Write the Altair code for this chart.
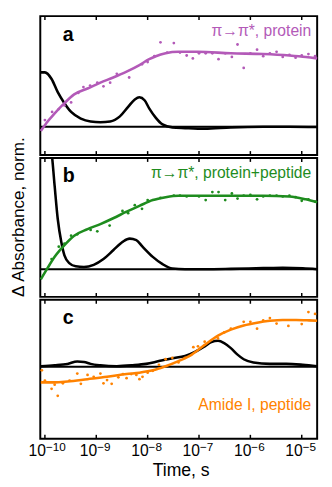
import altair as alt
import pandas as pd

FONT = "Liberation Sans"
W, H = 283, 142
X_LO, X_HI = -10.09, -4.70
DECADES = [-10, -9, -8, -7, -6, -5]
EXPONENTS = ["−10", "−9", "−8", "−7", "−6", "−5"]

PURPLE = "#B35AB8"
GREEN = "#1E8C1E"
ORANGE = "#FF8200"

# ---- panel a: pi->pi*, protein (x = log10 time / s)
A_PT_X = [-10.00, -9.86, -9.73, -9.62, -9.49, -9.35, -9.25, -9.12, -8.98, -8.86, -8.73, -8.60, -8.36, -8.11,
          -8.00, -7.87, -7.75, -7.62, -7.49, -7.37, -7.24, -7.12, -7.00, -6.87, -6.74, -6.62, -6.49, -6.36,
          -6.25, -6.13, -6.00, -5.87, -5.75, -5.62, -5.49, -5.37, -5.24, -5.12, -5.00, -4.87, -4.74]
A_PT_Y = [0.09, 0.20, 0.24, 0.29, 0.33, 0.46, 0.54, 0.56, 0.60, 0.55, 0.60, 0.72, 0.67, 0.85,
          0.88, 0.96, 1.15, 1.01, 1.14, 1.01, 0.97, 0.93, 1.00, 1.00, 1.00, 0.92, 1.00, 0.95,
          1.12, 0.80, 1.00, 1.05, 0.96, 1.00, 1.02, 0.95, 0.98, 0.94, 0.97, 0.99, 0.96]
A_FIT_X = [-10.08, -9.97, -9.81, -9.62, -9.43, -9.17, -8.92, -8.67, -8.41, -8.16, -7.97, -7.84, -7.65,
           -7.40, -7.02, -6.38, -5.75, -5.24, -4.92, -4.70]
A_FIT_Y = [-0.06, 0.05, 0.18, 0.32, 0.44, 0.52, 0.60, 0.67, 0.75, 0.84, 0.92, 0.96, 1.00,
           1.02, 1.02, 1.00, 0.99, 0.97, 0.95, 0.93]
A_BLK_X = [-10.09, -10.0, -9.87, -9.75, -9.62, -9.49, -9.30, -9.11, -8.92, -8.73, -8.54, -8.38, -8.25,
           -8.16, -8.06, -7.97, -7.84, -7.71, -7.52, -7.27, -6.89, -6.38, -5.75, -5.24, -4.70]
A_BLK_Y = [0.74, 0.74, 0.65, 0.47, 0.32, 0.20, 0.11, 0.07, 0.06, 0.07, 0.14, 0.27, 0.37,
           0.40, 0.36, 0.25, 0.12, 0.03, -0.01, -0.02, -0.03, -0.01, 0.0, 0.0, -0.005]

# ---- panel b: pi->pi*, protein+peptide
B_PT_X = [-9.87, -9.73, -9.62, -9.49, -9.37, -9.11, -8.98, -8.74, -8.49, -8.38, -8.25, -8.11, -8.00,
          -7.75, -7.49, -7.37, -7.24, -7.00, -6.87, -6.74, -6.62, -6.49, -6.36, -6.25, -6.13, -6.00,
          -5.87, -5.75, -5.62, -5.49, -5.37, -5.24, -5.12, -5.00, -4.87, -4.74]
B_PT_Y = [0.14, 0.31, 0.35, 0.46, 0.48, 0.54, 0.52, 0.60, 0.80, 0.77, 0.88, 0.83, 0.95,
          0.98, 1.01, 1.01, 1.00, 1.00, 0.95, 1.06, 1.06, 0.95, 1.04, 0.97, 1.01, 1.02,
          0.96, 1.00, 1.01, 1.01, 1.00, 1.01, 0.99, 0.94, 0.96, 0.93]
B_FIT_X = [-10.08, -9.97, -9.81, -9.62, -9.43, -9.17, -8.92, -8.67, -8.41, -8.16, -7.90, -7.65, -7.40,
           -7.02, -6.38, -5.75, -5.24, -4.92, -4.70]
B_FIT_Y = [-0.14, -0.01, 0.17, 0.33, 0.46, 0.55, 0.62, 0.70, 0.79, 0.87, 0.95, 0.99, 1.01,
           1.01, 1.01, 1.01, 1.00, 0.96, 0.92]
B_BLK_X = [-10.0, -9.94, -9.86, -9.81, -9.75, -9.68, -9.62, -9.52, -9.40, -9.24, -9.05, -8.86, -8.67,
           -8.48, -8.35, -8.22, -8.10, -7.90, -7.71, -7.52, -7.27, -6.89, -6.38, -5.75, -5.37, -4.98, -4.70]
B_BLK_Y = [2.6, 1.9, 1.54, 1.14, 0.69, 0.37, 0.19, 0.08, 0.04, 0.03, 0.06, 0.14, 0.26,
           0.38, 0.42, 0.40, 0.31, 0.17, 0.07, 0.01, 0.0, 0.0, 0.005, 0.015, 0.02, 0.013, 0.0]

# ---- panel c: Amide I, peptide
C_PT_X = [-10.06, -10.0, -9.87, -9.81, -9.75, -9.65, -9.52, -9.37, -9.30, -9.17, -9.05, -8.92, -8.86,
          -8.79, -8.70, -8.57, -8.48, -8.41, -8.32, -8.22, -8.16, -8.10, -8.00, -7.90, -7.78, -7.65,
          -7.52, -7.40, -7.27, -7.11, -7.02, -6.89, -6.63, -6.51, -6.38, -6.13, -6.00, -5.87, -5.75,
          -5.62, -5.49, -5.26, -5.00, -4.87, -4.74]
C_PT_Y = [-0.08, -0.30, -0.48, -0.39, -0.63, -0.36, -0.30, -0.15, -0.37, -0.18, -0.22, -0.15, -0.36,
          -0.29, -0.37, -0.23, -0.16, -0.25, -0.16, -0.18, -0.27, -0.22, -0.13, -0.09, 0.04, 0.16,
          0.19, 0.09, 0.19, 0.42, 0.44, 0.54, 0.61, 0.74, 0.82, 0.97, 0.97, 0.82, 1.00,
          1.05, 0.93, 0.88, 0.92, 1.18, 1.14]
C_FIT_X = [-10.08, -9.81, -9.56, -9.17, -8.79, -8.41, -8.16, -7.90, -7.65, -7.40, -7.14, -6.89, -6.63,
           -6.38, -6.13, -5.87, -5.62, -5.37, -5.11, -4.86, -4.70]
C_FIT_Y = [-0.34, -0.34, -0.32, -0.27, -0.22, -0.16, -0.13, -0.08, 0.01, 0.12, 0.26, 0.47, 0.67,
           0.80, 0.89, 0.95, 0.99, 1.01, 1.01, 1.00, 0.99]
C_BLK_X = [-10.08, -9.81, -9.56, -9.37, -9.24, -9.11, -8.92, -8.60, -8.29, -8.03, -7.78, -7.52, -7.27,
           -7.08, -6.89, -6.76, -6.63, -6.51, -6.38, -6.25, -6.13, -5.94, -5.62, -5.30, -4.98, -4.70]
C_BLK_Y = [0.01, 0.03, 0.06, 0.11, 0.10, 0.06, 0.03, 0.01, 0.03, 0.06, 0.12, 0.18, 0.23,
           0.32, 0.44, 0.53, 0.56, 0.51, 0.40, 0.26, 0.16, 0.09, 0.06, 0.06, 0.04, 0.01]


def frame(xs, ys):
    return pd.DataFrame({"t": [10.0 ** x for x in xs], "v": ys})


def panel(pts, fit, blk, color, ydomain, letter, label, label_y, show_x=False, show_y=False):
    xscale = alt.Scale(type="log", domain=[10.0 ** X_LO, 10.0 ** X_HI], nice=False)
    yscale = alt.Scale(domain=ydomain, nice=False, zero=False)
    if show_x:
        xaxis = alt.Axis(values=[10.0 ** d for d in DECADES], labels=False,
                         ticks=False, domain=False, grid=False,
                         title="Time, s", titleFontSize=18, titleFontWeight="normal",
                         titleColor="black", titlePadding=24, titleX=W / 2 + 2)
    else:
        xaxis = None
    if show_y:
        yaxis = alt.Axis(title="Δ Absorbance, norm.", labels=False, ticks=False, domain=False,
                         grid=False, titleFontSize=17.5, titleFontWeight="normal",
                         titleColor="black", titlePadding=13, titleY=60)
    else:
        yaxis = None

    X = alt.X("t:Q", scale=xscale, axis=xaxis)
    Y = alt.Y("v:Q", scale=yscale, axis=yaxis)

    base_rule = alt.Chart(pd.DataFrame({"v": [0.0]})).mark_rule(
        color="black", strokeWidth=2).encode(y=Y)
    points = alt.Chart(pts).mark_circle(size=8, color=color, opacity=1).encode(x=X, y=Y)
    fit_line = alt.Chart(fit).mark_line(color=color, strokeWidth=2.6,
                                         interpolate="monotone").encode(x=X, y=Y)
    blk_line = alt.Chart(blk).mark_line(color="black", strokeWidth=2.6, clip=True,
                                         interpolate="monotone").encode(x=X, y=Y)
    ticks_df = pd.DataFrame({"t": [10.0 ** d for d in DECADES], "base": ["10"] * len(DECADES),
                             "exp": EXPONENTS})
    top_ticks = alt.Chart(ticks_df).mark_rule(color="black", strokeWidth=1.5).encode(
        x=X, y=alt.value(0), y2=alt.value(4))
    bot_ticks = alt.Chart(ticks_df).mark_rule(color="black", strokeWidth=1.5).encode(
        x=X, y=alt.value(H - 4), y2=alt.value(H))
    letter_txt = alt.Chart(pd.DataFrame({"s": [letter]})).mark_text(
        font=FONT, fontSize=20, fontWeight="bold", align="left", baseline="alphabetic",
        color="black").encode(text="s:N", x=alt.value(23), y=alt.value(25))
    label_txt = alt.Chart(pd.DataFrame({"s": [label]})).mark_text(
        font=FONT, fontSize=16, align="right", baseline="alphabetic",
        color=color).encode(text="s:N", x=alt.value(277), y=alt.value(label_y))
    layers = [base_rule, blk_line, points, fit_line, top_ticks, bot_ticks, letter_txt, label_txt]
    if show_x:
        base_lbl = alt.Chart(ticks_df).mark_text(
            font=FONT, fontSize=16, align="right", baseline="alphabetic", dx=1,
            color="black").encode(x=X, y=alt.value(H + 18), text="base:N")
        exp_lbl = alt.Chart(ticks_df).mark_text(
            font=FONT, fontSize=12, align="left", baseline="alphabetic", dx=1,
            color="black").encode(x=X, y=alt.value(H + 13), text="exp:N")
        layers += [base_lbl, exp_lbl]
    return alt.layer(*layers).properties(width=W, height=H)


pa = panel(frame(A_PT_X, A_PT_Y), frame(A_FIT_X, A_FIT_Y), frame(A_BLK_X, A_BLK_Y), PURPLE,
           [-0.387, 1.507], "a", "π→π*, protein", 20)
pb = panel(frame(B_PT_X, B_PT_Y), frame(B_FIT_X, B_FIT_Y), frame(B_BLK_X, B_BLK_Y), GREEN,
           [-0.380, 1.528], "b", "π→π*, protein+peptide", 20, show_y=True)
pc = panel(frame(C_PT_X, C_PT_Y), frame(C_FIT_X, C_FIT_Y), frame(C_BLK_X, C_BLK_Y), ORANGE,
           [-1.558, 1.444], "c", "Amide I, peptide", 113, show_x=True)

chart = alt.vconcat(pa, pb, pc, spacing=3, bounds="flush").properties(
    padding={"left": 0, "top": 1, "right": 0, "bottom": 0}
).configure(font=FONT).configure_view(stroke="black", strokeWidth=2)

chart.save("out.html", embed_options={"renderer": "svg", "actions": False})
